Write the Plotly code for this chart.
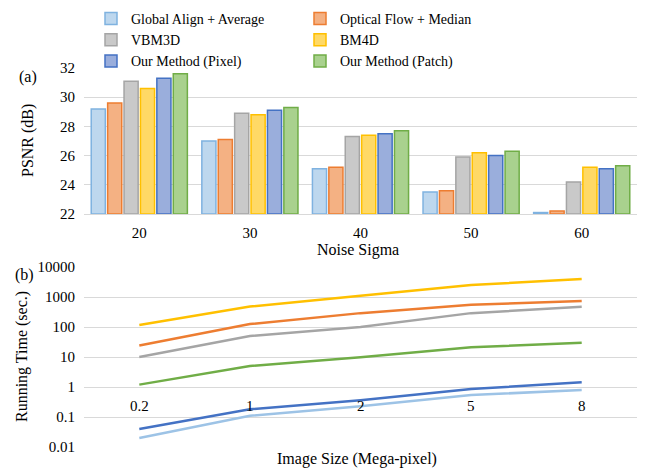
import plotly.graph_objects as go

# ---- data ----
series_names = ["Global Align + Average", "Optical Flow + Median", "VBM3D", "BM4D",
                "Our Method (Pixel)", "Our Method (Patch)"]
noise_sigma = ["20", "30", "40", "50", "60"]
psnr_global = [29.2, 27.0, 25.1, 23.5, 22.1]
psnr_optical = [29.6, 27.1, 25.2, 23.6, 22.2]
psnr_vbm3d = [31.1, 28.9, 27.3, 25.9, 24.2]
psnr_bm4d = [30.6, 28.8, 27.4, 26.2, 25.2]
psnr_pixel = [31.3, 29.1, 27.5, 26.0, 25.1]
psnr_patch = [31.6, 29.3, 27.7, 26.3, 25.3]

image_size = ["0.2", "1", "2", "5", "8"]
time_global = [0.02, 0.11, 0.23, 0.54, 0.79]
time_optical = [24, 125, 290, 550, 740]
time_vbm3d = [10, 50, 100, 290, 470]
time_bm4d = [117, 480, 1100, 2500, 4000]
time_pixel = [0.04, 0.18, 0.36, 0.85, 1.45]
time_patch = [1.2, 5, 9.8, 21, 30]

psnr_ticks = [22, 24, 26, 28, 30, 32]
time_ticks = [0.01, 0.1, 1, 10, 100, 1000, 10000]
time_ticktext = ["0.01", "0.1", "1", "10", "100", "1000", "10000"]

fill_colors = ["#bdd7ee", "#f4b183", "#c9c9c9", "#ffd966", "#9aaedc", "#a9d18e"]
line_colors = ["#9dc3e6", "#ed7d31", "#a5a5a5", "#ffc000", "#4472c4", "#70ad47"]
outline_colors = ["#7fb2e0", "#ed7d31", "#a5a5a5", "#ffc000", "#4472c4", "#70ad47"]

FONT = "Liberation Serif"
OFF = 8                 # page body margin offset
W, H = 646 - OFF, 473 - OFF

psnr_all = [psnr_global, psnr_optical, psnr_vbm3d, psnr_bm4d, psnr_pixel, psnr_patch]
time_all = [time_global, time_optical, time_vbm3d, time_bm4d, time_pixel, time_patch]

fig = go.Figure()
for i, name in enumerate(series_names):
    fig.add_trace(go.Bar(
        x=noise_sigma, y=[v - 22 for v in psnr_all[i]], base=22, name=name,
        marker=dict(color=fill_colors[i], line=dict(color=outline_colors[i], width=1.5)),
        xaxis="x", yaxis="y"))
for i, name in enumerate(series_names):
    fig.add_trace(go.Scatter(
        x=image_size, y=time_all[i], mode="lines", name=name, showlegend=False,
        line=dict(color=line_colors[i], width=2.5),
        xaxis="x2", yaxis="y2"))

def py(px):
    return 1 - (px - OFF) / H

L, R = 84, 637
PW = R - L

def pxx(px):
    return (px - L) / PW

grid = "#d9d9d9"
tf = dict(family=FONT, size=15, color="#000000")
fig.update_layout(
    template="none",
    width=W, height=H,
    margin=dict(l=L - OFF, r=W - (R - OFF), t=0, b=0, autoexpand=False),
    paper_bgcolor="white", plot_bgcolor="white",
    font=dict(family=FONT, size=15, color="#000000"),
    barmode="group", bargap=0.11, bargroupgap=0.14,
    xaxis=dict(domain=[0, 1], anchor="y", type="category", showgrid=False,
               range=[-0.5, 4.5], automargin=False,
               showline=True, linecolor=grid, linewidth=1, ticks="",
               ticklabelstandoff=5, tickfont=tf),
    yaxis=dict(domain=[py(214), py(68)], anchor="x", range=[22, 32], automargin=False,
               tickvals=psnr_ticks, showgrid=True, gridcolor=grid, gridwidth=1,
               zeroline=False, showline=False, ticks="", tickfont=tf,
               ticklabelstandoff=8),
    xaxis2=dict(domain=[0, 1], anchor="y2", type="category", showgrid=False,
                range=[-0.5, 4.5], automargin=False,
                showline=False, showticklabels=False, ticks=""),
    yaxis2=dict(domain=[py(447), py(267)], anchor="x2", type="log", range=[-2, 4],
                automargin=False,
                tickvals=time_ticks, ticktext=time_ticktext, showgrid=True,
                gridcolor=grid, gridwidth=1, zeroline=False, showline=False,
                ticks="", tickfont=tf, ticklabelstandoff=8),
    legend=dict(orientation="h", x=pxx(91), xanchor="left", y=1 + 5 / H, yanchor="top",
                entrywidth=164, font=dict(family=FONT, size=14, color="#000000"),
                bgcolor="rgba(0,0,0,0)", traceorder="normal", itemwidth=30),
    showlegend=True,
)

# bottom category labels drawn at the y=1 crossing line
for idx, lab in enumerate(image_size):
    fig.add_annotation(x=idx, y=0, xref="x2", yref="y2", text=lab, showarrow=False,
                       yanchor="top", yshift=-9, font=tf)

ann = [
    dict(text="PSNR (dB)", x=pxx(28), y=py(141), textangle=-90),
    dict(text="Running Time (sec.)", x=pxx(22), y=py(357), textangle=-90),
    dict(text="Noise Sigma", x=pxx(358), y=py(250), textangle=0),
    dict(text="Image Size (Mega-pixel)", x=pxx(357), y=py(459), textangle=0),
    dict(text="(a)", x=pxx(28), y=py(77), textangle=0),
    dict(text="(b)", x=pxx(24), y=py(275), textangle=0),
]
for a in ann:
    fig.add_annotation(text=a["text"], x=a["x"], y=a["y"], xref="paper", yref="paper",
                       xanchor="center", yanchor="middle", textangle=a["textangle"],
                       showarrow=False, font=dict(family=FONT, size=16, color="#000000"))

fig.write_html("out.html")
